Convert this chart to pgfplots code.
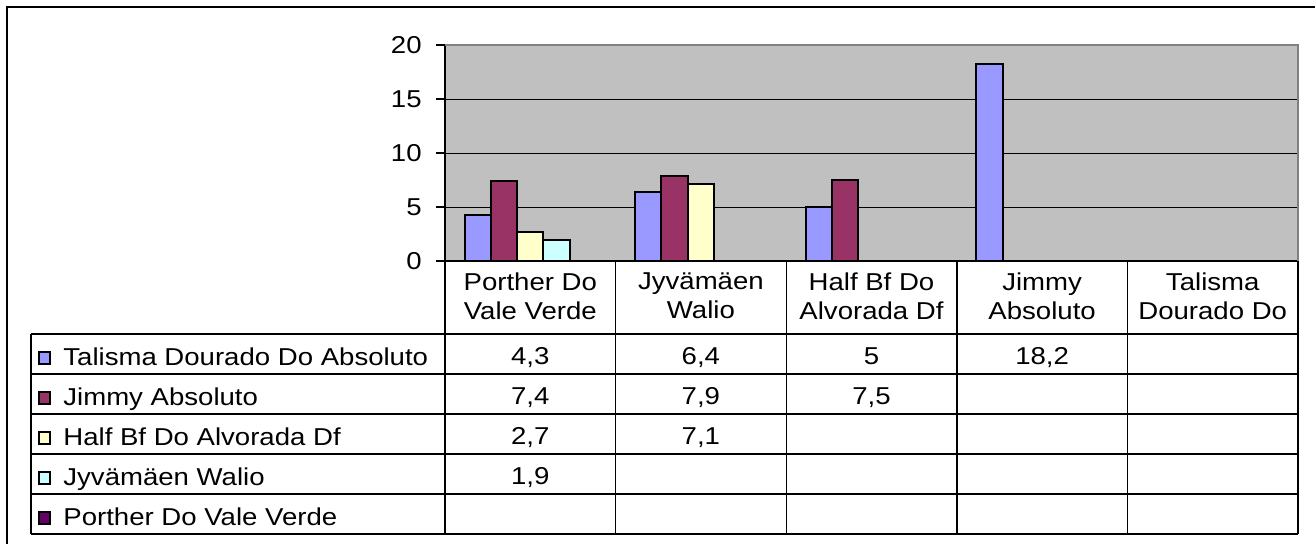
\documentclass[border=0pt]{standalone}
\usepackage{fontspec}
\setmainfont{Liberation Sans}[FakeStretch=1.13]
\usepackage{pgfplots}
\pgfplotsset{compat=1.18}
\definecolor{cA}{HTML}{9999FF}
\definecolor{cB}{HTML}{993366}
\definecolor{cC}{HTML}{FFFFCC}
\definecolor{cD}{HTML}{CCFFFF}
\definecolor{cE}{HTML}{660066}
\definecolor{plotgray}{HTML}{C0C0C0}
\definecolor{bordergray}{HTML}{808080}
\begin{document}
\fontsize{12.2}{14.5}\selectfont
\begin{tikzpicture}
\useasboundingbox (0,0) rectangle (657.5pt,271.5pt);
\begin{axis}[
  at={(222.5pt,141pt)}, anchor=south west,
  scale only axis, width=426.5pt, height=108pt,
  xmin=-0.5, xmax=4.5, ymin=0, ymax=20,
  ytick={0,5,10,15,20},
  xtick={0,1,2,3,4},
  xticklabels={{Porther Do\\Vale Verde},{Jyvämäen\\Walio},{Half Bf Do\\Alvorada Df},{Jimmy\\Absoluto},{Talisma\\Dourado Do}},
  x tick style={draw=none},
  y tick style={black, line width=0.6pt},
  tick align=outside, major tick length=4.5pt,
  ytick pos=left,
  axis lines*=left,
  axis line style={black, line width=0.8pt, -},
  ymajorgrids, grid style={black, line width=0.5pt},
  axis background/.style={fill=plotgray},
  /pgf/number format/assume math mode=true,
  tick label style={font=\fontsize{12.2}{14.5}\selectfont},
  xticklabel style={align=center, anchor=north, inner sep=0pt, yshift=-1.4pt},
  yticklabel style={anchor=east, inner sep=0pt, xshift=-7pt},
  ybar=0pt, bar width=13.15pt,
  clip=false,
]
\addplot[fill=cA, draw=black, line width=1pt, bar shift=-26.3pt] coordinates {(0,4.3) (1,6.4) (2,5) (3,18.2)};
\addplot[fill=cB, draw=black, line width=1pt, bar shift=-13.15pt] coordinates {(0,7.4) (1,7.9) (2,7.5)};
\addplot[fill=cC, draw=black, line width=1pt, bar shift=0pt] coordinates {(0,2.7) (1,7.1)};
\addplot[fill=cD, draw=black, line width=1pt, bar shift=13.15pt] coordinates {(0,1.9)};
\draw[bordergray, line width=0.9pt] (rel axis cs:0,1) -- (rel axis cs:1,1) -- (rel axis cs:1,0);
\end{axis}
\begin{scope}[x=0.5pt, y=-0.5pt, shift={(0pt,271.5pt)}]
  \draw[black, line width=1.3pt] (7,600) -- (7,7) -- (1400,7);
  \draw[line width=0.7pt] (445,261) -- (445,534);
  \foreach \x in {615.6,786.2,956.8,1127.4,1298} \draw[line width=0.7pt] (\x,261) -- (\x,534);
  \foreach \y in {334,374,414,454,494,534} \draw[line width=0.7pt] (31,\y) -- (1298,\y);
  \draw[line width=0.7pt] (31,334) -- (31,534);
  \foreach \c/\t [count=\i from 0] in {cA/Talisma Dourado Do Absoluto, cB/Jimmy Absoluto, cC/Half Bf Do Alvorada Df, cD/Jyvämäen Walio, cE/Porther Do Vale Verde} {
    \pgfmathsetmacro\yb{365+40*\i}
    \draw[fill=\c, line width=0.7pt] (39,\yb-1) rectangle (50,\yb-13);
    \node[anchor=base west, inner sep=0pt] at (63,\yb) {\t};
  }
  \foreach \col/\row/\v in {0/0/{4,3}, 1/0/{6,4}, 2/0/{5}, 3/0/{18,2},
                            0/1/{7,4}, 1/1/{7,9}, 2/1/{7,5},
                            0/2/{2,7}, 1/2/{7,1},
                            0/3/{1,9}} {
    \pgfmathsetmacro\xc{445+170.6*(\col+0.5)}
    \pgfmathsetmacro\yb{364+40*\row}
    \node[anchor=base, inner sep=0pt] at (\xc,\yb) {\v};
  }
\end{scope}
\end{tikzpicture}
\end{document}
